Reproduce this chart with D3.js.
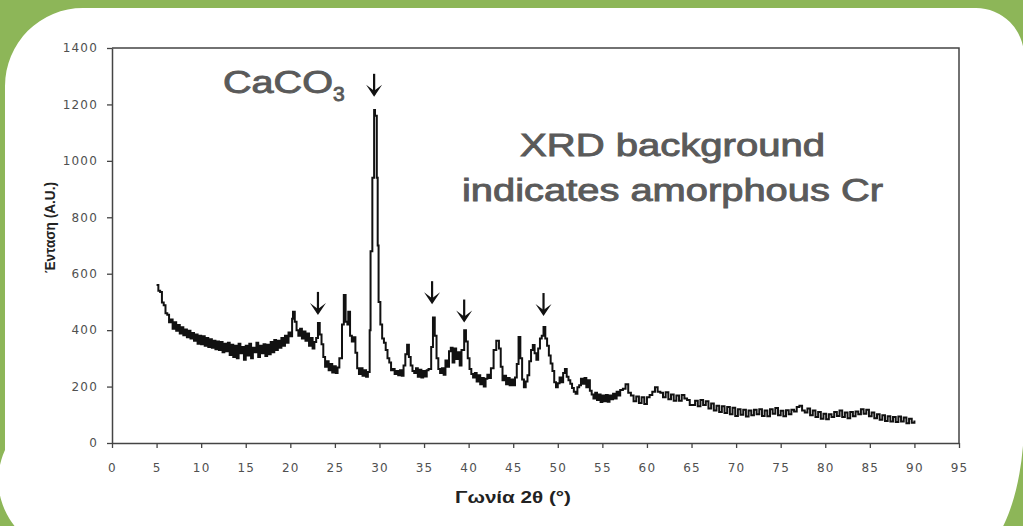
<!DOCTYPE html>
<html lang="en">
<head>
<meta charset="UTF-8">
<title>XRD pattern</title>
<script src="https://d3js.org/d3.v7.min.js"></script>
<style>
  html, body { margin: 0; padding: 0; background: #8db658; }
  svg { display: block; }
  .tick text { font-family: "DejaVu Sans", sans-serif; font-size: 12px; letter-spacing: 1.2px; fill: #505050; }
  .note { font-family: "Liberation Sans", Arial, sans-serif; fill: #5a5a5a; stroke: #5a5a5a; stroke-width: 0.9px; }
  .axis-title { font-family: "Liberation Sans", Arial, sans-serif; font-weight: bold; fill: #222; }
</style>
</head>
<body>
<svg width="1023" height="526"></svg>
<script>
// diffraction angle (deg 2θ) and intensity (A.U.)
const angles = [
  5.0, 5.2, 5.4, 5.6, 5.8, 6.0, 6.2, 6.4, 6.6, 6.8, 7.0, 7.2, 7.4, 7.6, 7.8, 8.0, 8.2, 8.4, 8.6, 8.8,
  9.0, 9.2, 9.4, 9.6, 9.8, 10.0, 10.2, 10.4, 10.6, 10.8, 11.0, 11.2, 11.4, 11.6, 11.8, 12.0, 12.2, 12.4, 12.6, 12.8,
  13.0, 13.2, 13.4, 13.6, 13.8, 14.0, 14.2, 14.4, 14.6, 14.8, 15.0, 15.2, 15.4, 15.6, 15.8, 16.0, 16.2, 16.4, 16.6, 16.8,
  17.0, 17.2, 17.4, 17.6, 17.8, 18.0, 18.2, 18.4, 18.6, 18.8, 19.0, 19.2, 19.4, 19.6, 19.8, 20.0, 20.2, 20.3, 20.5, 20.7,
  20.9, 21.1, 21.3, 21.5, 21.7, 21.9, 22.1, 22.3, 22.5, 22.7, 22.9, 23.1, 23.3, 23.5, 23.7, 23.9, 24.1, 24.3, 24.5, 24.7,
  24.9, 25.1, 25.3, 25.5, 25.8, 26.0, 26.2, 26.4, 26.5, 26.7, 26.9, 27.1, 27.3, 27.5, 27.7, 27.9, 28.1, 28.3, 28.5, 28.7,
  28.9, 29.0, 29.2, 29.4, 29.5, 29.7, 29.8, 29.9, 30.1, 30.3, 30.5, 30.7, 30.9, 31.1, 31.3, 31.5, 31.7, 31.9, 32.1, 32.3,
  32.5, 32.7, 32.9, 33.1, 33.3, 33.5, 33.7, 33.9, 34.1, 34.3, 34.5, 34.7, 34.9, 35.1, 35.3, 35.5, 35.8, 36.0, 36.2, 36.4,
  36.6, 36.8, 37.0, 37.2, 37.4, 37.6, 37.8, 38.0, 38.2, 38.4, 38.6, 38.8, 39.0, 39.2, 39.5, 39.7, 39.9, 40.1, 40.3, 40.5,
  40.7, 40.9, 41.1, 41.3, 41.5, 41.7, 41.9, 42.1, 42.3, 42.5, 42.8, 43.1, 43.4, 43.6, 43.8, 44.0, 44.2, 44.4, 44.6, 44.8,
  45.0, 45.2, 45.4, 45.6, 45.8, 46.0, 46.2, 46.4, 46.6, 46.8, 47.0, 47.2, 47.4, 47.6, 47.8, 48.0, 48.2, 48.4, 48.6, 48.8,
  49.0, 49.2, 49.4, 49.6, 49.8, 50.0, 50.2, 50.4, 50.6, 50.8, 51.0, 51.2, 51.4, 51.6, 51.8, 52.0, 52.2, 52.4, 52.6, 52.8,
  53.0, 53.2, 53.4, 53.6, 53.8, 54.0, 54.2, 54.4, 54.6, 54.8, 55.0, 55.2, 55.4, 55.6, 55.8, 56.0, 56.2, 56.4, 56.6, 56.8,
  57.0, 57.3, 57.6, 57.9, 58.2, 58.5, 58.8, 59.1, 59.4, 59.7, 60.0, 60.3, 60.6, 60.9, 61.2, 61.5, 61.8, 62.1, 62.4, 62.7,
  63.0, 63.3, 63.6, 63.9, 64.2, 64.5, 64.8, 65.1, 65.4, 65.7, 66.0, 66.3, 66.6, 66.9, 67.2, 67.5, 67.8, 68.1, 68.4, 68.7,
  69.0, 69.3, 69.6, 69.9, 70.2, 70.5, 70.8, 71.1, 71.4, 71.7, 72.0, 72.3, 72.6, 72.9, 73.2, 73.5, 73.8, 74.1, 74.4, 74.7,
  75.0, 75.3, 75.6, 75.9, 76.2, 76.5, 76.8, 77.1, 77.4, 77.7, 78.0, 78.3, 78.6, 78.9, 79.2, 79.5, 79.8, 80.1, 80.4, 80.7,
  81.0, 81.3, 81.6, 81.9, 82.2, 82.5, 82.8, 83.1, 83.4, 83.7, 84.0, 84.3, 84.6, 84.9, 85.2, 85.5, 85.8, 86.1, 86.4, 86.7,
  87.0, 87.3, 87.6, 87.9, 88.2, 88.5, 88.8, 89.1, 89.4, 89.7, 90.0
];
const intensity = [
  560, 540, 535, 498, 488, 460, 455, 428, 438, 405, 428, 398, 418, 388, 410, 382, 402, 375, 398, 370,
  390, 362, 385, 352, 380, 350, 378, 345, 372, 340, 368, 338, 362, 332, 360, 330, 358, 322, 352, 325,
  355, 312, 348, 305, 345, 300, 352, 318, 340, 295, 345, 310, 352, 300, 338, 322, 355, 305, 345, 318,
  350, 308, 348, 315, 358, 322, 365, 330, 362, 338, 372, 345, 380, 355, 392, 378, 440, 465, 430, 400,
  380, 405, 370, 395, 362, 388, 345, 372, 335, 358, 372, 425, 385, 350, 305, 270, 290, 258, 280, 250,
  272, 248, 268, 300, 420, 525, 430, 420, 465, 380, 360, 375, 320, 265, 245, 265, 238, 258, 235, 252,
  400, 680, 940, 1180, 1160, 940, 700, 500, 420, 370, 355, 330, 300, 285, 258, 262, 245, 255, 240, 258,
  238, 275, 315, 348, 305, 275, 255, 248, 265, 235, 260, 232, 255, 236, 258, 262, 340, 445, 380, 300,
  262, 248, 265, 242, 292, 270, 325, 338, 285, 335, 298, 322, 275, 330, 400, 360, 300, 262, 245, 232,
  248, 218, 240, 208, 230, 200, 228, 242, 230, 265, 330, 362, 335, 270, 222, 238, 208, 230, 205, 225,
  205, 232, 280, 376, 300, 225, 198, 218, 240, 290, 330, 347, 318, 295, 335, 370, 380, 411, 370, 345,
  310, 282, 255, 215, 198, 212, 232, 215, 248, 262, 235, 222, 210, 195, 182, 175, 198, 205, 228, 210,
  230, 198, 222, 185, 172, 158, 178, 152, 172, 145, 168, 148, 170, 146, 168, 155, 175, 158, 182, 168,
  188, 192, 208, 178, 168, 148, 165, 142, 162, 138, 162, 170, 182, 198, 182, 178, 162, 180, 155, 172,
  150, 168, 150, 170, 158, 152, 135, 135, 150, 130, 152, 135, 148, 122, 140, 115, 132, 110, 130, 106,
  128, 102, 125, 96, 120, 100, 118, 94, 115, 98, 118, 102, 120, 96, 115, 95, 120, 104, 124, 98,
  114, 95, 116, 102, 118, 112, 128, 132, 115, 108, 122, 98, 115, 92, 110, 86, 104, 84, 102, 92,
  110, 96, 115, 92, 108, 88, 110, 95, 112, 102, 120, 104, 118, 95, 108, 88, 102, 82, 98, 78,
  95, 76, 92, 74, 94, 76, 90, 70, 86, 72, 80
];

// marked reflections: angle and height of the arrow tip
const arrowAngles = [23.1, 29.4, 35.9, 39.5, 48.4];
const arrowTips = [454, 1227, 492, 427, 450];

const xTicks = d3.range(0, 96, 5);
const yTicks = d3.range(0, 1401, 200);

const svg = d3.select("svg");

// green slide background with rounded white card
svg.append("path")
  .attr("d", "M5,86 A78,78 0 0 1 83,8 H976 A48,48 0 0 1 1024,56 V420 A60,140 0 0 1 964,560 H95 A90,80 0 0 1 5,450 Z")
  .attr("fill", "#ffffff");

const margin = { left: 112, top: 48 };
const width = 847, height = 395;

const g = svg.append("g").attr("transform", `translate(${margin.left},${margin.top})`);

const x = d3.scaleLinear().domain([0, 95]).range([0, width]);
const y = d3.scaleLinear().domain([0, 1400]).range([height, 0]);

// frame (top and right)
g.append("path")
  .attr("d", `M0,0 H${width} V${height}`)
  .attr("fill", "none")
  .attr("stroke", "#444")
  .attr("stroke-width", 1.5);

const xAxis = g.append("g")
  .attr("transform", `translate(0,${height})`)
  .call(d3.axisBottom(x).tickValues(xTicks).tickFormat(d3.format("d"))
    .tickSize(5).tickPadding(15).tickSizeOuter(0));

const yAxis = g.append("g")
  .call(d3.axisLeft(y).tickValues(yTicks).tickFormat(d3.format("d"))
    .tickSize(5).tickPadding(9).tickSizeOuter(0));

[xAxis, yAxis].forEach(a => {
  a.select(".domain").attr("stroke", "#444").attr("stroke-width", 1.5);
  a.selectAll(".tick line").attr("stroke", "#444").attr("stroke-width", 1.3);
});

const pts = angles.map((a, i) => [a, intensity[i]]);

g.append("path")
  .datum(pts)
  .attr("fill", "none")
  .attr("stroke", "#111")
  .attr("stroke-width", 2)
  .attr("d", d3.line().x(d => x(d[0])).y(d => y(d[1])).curve(d3.curveStepAfter));

// arrows
const arrows = g.append("g")
  .selectAll("g")
  .data(arrowAngles.map((a, i) => [a, arrowTips[i]]))
  .join("g")
  .attr("transform", d => `translate(${x(d[0])},${y(d[1])})`);

arrows.append("line")
  .attr("x1", 0).attr("x2", 0).attr("y1", -23).attr("y2", -2)
  .attr("stroke", "#111").attr("stroke-width", 2.2);
arrows.append("path")
  .attr("d", "M-8,-12 L0,0 L8,-12 L0,-6 Z")
  .attr("fill", "#111");

// annotations
const caco = svg.append("text")
  .attr("class", "note")
  .attr("x", 223).attr("y", 93)
  .attr("font-size", 31);
caco.append("tspan").attr("textLength", 110).attr("lengthAdjust", "spacingAndGlyphs").text("CaCO");
caco.append("tspan").attr("dy", 8).attr("font-size", 21).text("3");

svg.append("text")
  .attr("class", "note")
  .attr("x", 520).attr("y", 156)
  .attr("font-size", 31)
  .attr("textLength", 305).attr("lengthAdjust", "spacingAndGlyphs")
  .text("XRD background");
svg.append("text")
  .attr("class", "note")
  .attr("x", 462).attr("y", 201)
  .attr("font-size", 31)
  .attr("textLength", 421).attr("lengthAdjust", "spacingAndGlyphs")
  .text("indicates amorphous Cr");

// axis titles
svg.append("text")
  .attr("class", "axis-title")
  .attr("x", 455).attr("y", 503)
  .attr("font-size", 17)
  .attr("textLength", 116).attr("lengthAdjust", "spacingAndGlyphs")
  .text("Γωνία 2θ (°)");

svg.append("text")
  .attr("class", "axis-title")
  .attr("transform", "translate(55,273) rotate(-90)")
  .attr("font-size", 15)
  .attr("textLength", 91).attr("lengthAdjust", "spacingAndGlyphs")
  .text("Ένταση (A.U.)");
</script>
</body>
</html>
